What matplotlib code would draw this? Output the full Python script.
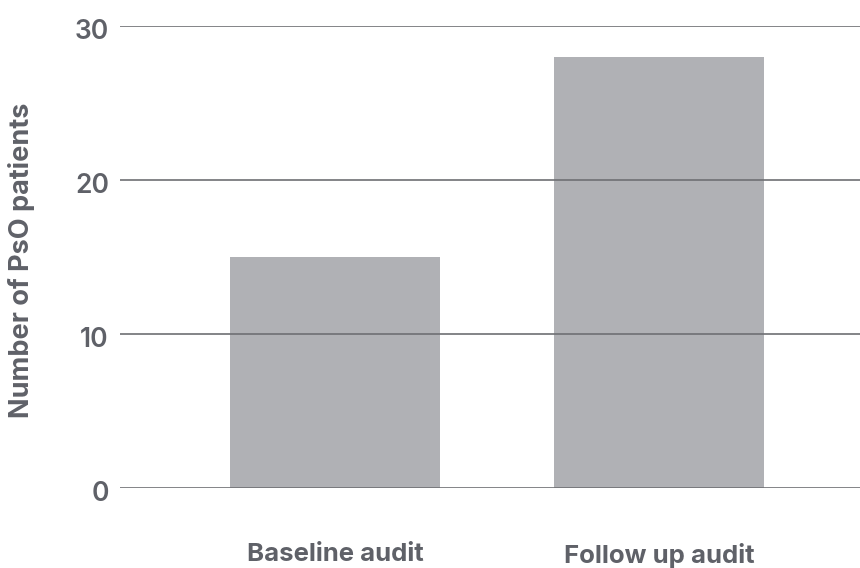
import matplotlib
matplotlib.use("Agg")
import matplotlib.pyplot as plt
import matplotlib.transforms as mtransforms

categories = ["Baseline audit", "Follow up audit"]
values = [15, 28]
yticks = [0, 10, 20, 30]

plt.rcParams['font.family'] = ['Inter', 'DejaVu Sans']

fig = plt.figure(figsize=(8.6, 5.68), dpi=100)
ax = fig.add_axes([120/860, 80/568, 740/860, 462/568])

x = list(range(len(categories)))
ax.bar(x, values, width=0.648, color='#b0b1b5', zorder=1)
ax.set_ylim(0, 30)
ax.set_xlim(-0.664, 1.62)
ax.set_yticks(yticks)
ax.set_yticklabels([str(t) for t in yticks], fontsize=19, color='#5f6168', fontweight='semibold')
ax.set_xticks(x)
ax.set_xticklabels(categories, fontsize=18.5, color='#5f6168', fontweight='bold')
ax.tick_params(axis='x', length=0, pad=39.5)
ax.tick_params(axis='y', length=0, pad=8)
off = mtransforms.ScaledTranslation(0, -3/100, fig.dpi_scale_trans)
for lbl in ax.get_yticklabels():
    lbl.set_transform(lbl.get_transform() + off)
ax.grid(axis='y', color='#6e6f73', linewidth=1.2, zorder=0)
ax.set_axisbelow(False)
for s in ax.spines.values():
    s.set_visible(False)
fig.text(22/860, 1 - 260/568, "Number of PsO patients", rotation=90,
         ha='center', va='center', fontsize=19.5, color='#5f6168', fontweight='bold')

fig.savefig("out.png", dpi=100)
